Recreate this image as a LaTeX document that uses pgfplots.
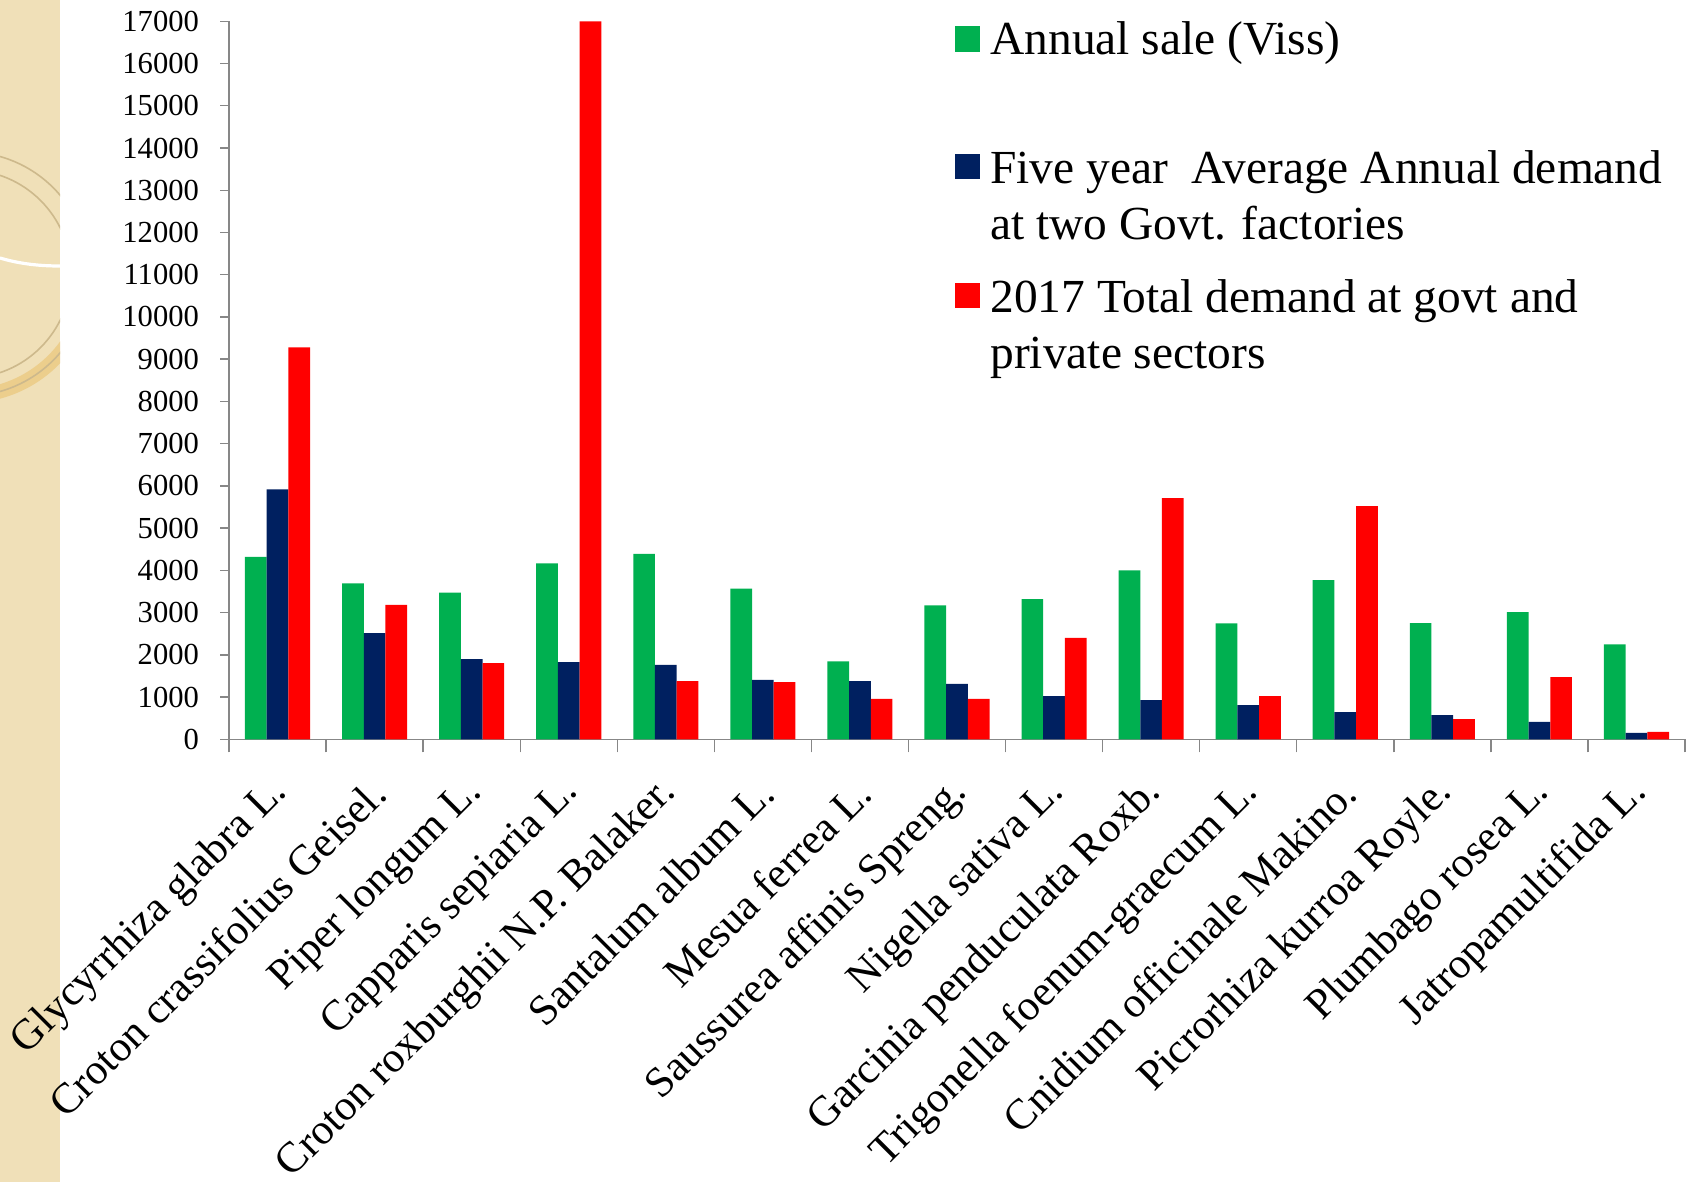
\documentclass[border=0pt]{standalone}
\usepackage{fontspec}
\setmainfont{Liberation Serif}
\usepackage{pgfplots}
\pgfplotsset{compat=1.18}
\definecolor{cgreen}{HTML}{00B050}
\definecolor{cnavy}{HTML}{002060}
\definecolor{cred}{HTML}{FF0000}
\definecolor{axgray}{HTML}{878787}
\definecolor{beige}{RGB}{240,224,184}
\definecolor{beigedark}{RGB}{205,185,140}
\definecolor{gold}{RGB}{236,206,140}
\begin{document}
\begin{tikzpicture}
\useasboundingbox (0bp,0bp) rectangle (843bp,591bp);
\begin{scope}[x=1bp,y=1bp]
\fill[white] (0,0) rectangle (843,591);
\begin{scope}
\clip (0,0) rectangle (30,591);
\fill[beige] (0,0) rectangle (30,591);
\draw[gold, line width=7bp] (-16.5,454) ++(-90:61) arc[start angle=-90, end angle=10, radius=61];
\draw[beigedark, line width=0.8bp] (-16.5,454) circle[radius=61];
\draw[beigedark, line width=0.8bp] (-16.5,454) circle[radius=52];
\draw[white, line width=1.6bp] (0,462) .. controls (10,459) and (20,458) .. (30,458);
\end{scope}
\end{scope}
\begin{axis}[
  at={(114.5bp,221.35bp)}, anchor=south west, scale only axis,
  width=728bp, height=359bp,
  ymin=0, ymax=17000, ytick={0,1000,...,17000},
  scaled y ticks=false,
  xmin=-0.5, xmax=14.5,
  xtick={0,...,14},
  xticklabels={Glycyrrhiza glabra L., Croton crassifolius Geisel., Piper longum L., Capparis sepiaria L., Croton roxburghii N.P. Balaker., Santalum album L., Mesua ferrea L., Saussurea affinis Spreng., Nigella sativa L., Garcinia penduculata Roxb., Trigonella foenum-graecum L., Cnidium officinale Makino., Picrorhiza kurroa Royle., Plumbago rosea L., Jatropamultifida L.},
  minor xtick={-0.5,0.5,...,14.5},
  ybar=0pt, bar width=10.85bp,
  axis x line*=bottom, axis y line*=left,
  axis line style={axgray, line width=0.7bp},
  every tick/.style={axgray, line width=0.7bp},
  major x tick style={draw=none},
  tick align=outside,
  major tick length=4.5bp, minor tick length=6.5bp,
  yticklabel style={font=\fontsize{15.35}{18}\selectfont, anchor=east, inner sep=0pt, xshift=-10.35bp},
  xticklabel style={font=\fontsize{21.5}{25}\selectfont, anchor=east, inner sep=0pt, xshift=2bp, yshift=-19bp, rotate=45},
  /pgf/number format/assume math mode=true,
  /pgf/number format/1000 sep={},
]
\addplot[fill=cgreen, draw=none] coordinates {(0,4320) (1,3690) (2,3470) (3,4165) (4,4390) (5,3565) (6,1845) (7,3170) (8,3320) (9,4000) (10,2745) (11,3770) (12,2750) (13,3010) (14,2250)};
\addplot[fill=cnavy, draw=none] coordinates {(0,5920) (1,2515) (2,1900) (3,1830) (4,1760) (5,1405) (6,1380) (7,1310) (8,1025) (9,930) (10,810) (11,645) (12,575) (13,410) (14,150)};
\addplot[fill=cred, draw=none] coordinates {(0,9280) (1,3180) (2,1805) (3,17000) (4,1380) (5,1355) (6,955) (7,955) (8,2400) (9,5710) (10,1025) (11,5520) (12,480) (13,1475) (14,175)};
\end{axis}
\begin{scope}[x=1bp,y=1bp]
\fill[cgreen] (477.25,565) rectangle (489.75,578);
\fill[cnavy] (477.25,501.5) rectangle (489.75,514);
\fill[cred] (477.25,437) rectangle (489.75,449.5);
\begin{scope}[every node/.style={anchor=base west, inner sep=0pt, font=\fontsize{23.8}{28}\selectfont}]
\node at (495,563.5) {Annual sale (Viss)};
\node at (495,499) {Five year~~Average Annual demand};
\node at (495,471) {at two Govt. factories};
\node at (495,434.5) {2017 Total demand at govt and};
\node at (495,406.5) {private sectors};
\end{scope}
\end{scope}
\end{tikzpicture}
\end{document}
